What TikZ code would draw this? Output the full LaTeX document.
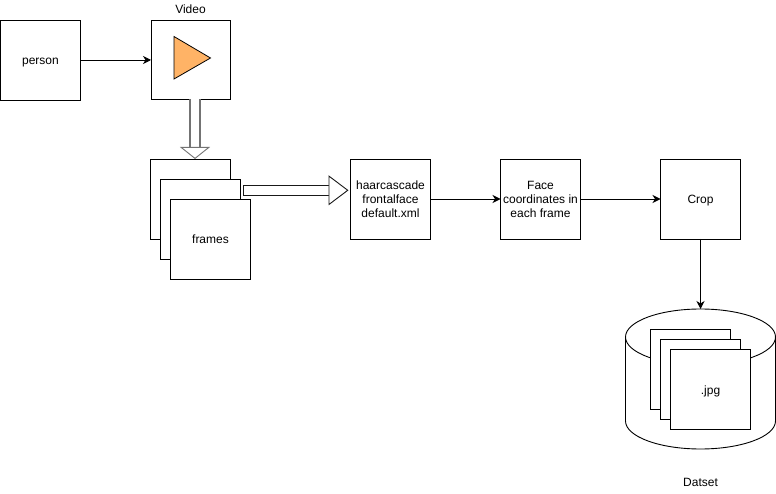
\documentclass[tikz,border=0pt]{standalone}
\usepackage{fontspec}
\setmainfont{Liberation Sans}
\usetikzlibrary{arrows.meta, positioning}
\definecolor{playorange}{HTML}{FFB366}

\begin{document}
\begin{tikzpicture}[
    x=1pt, y=-1pt,
    font=\fontsize{12}{14}\selectfont,
    box/.style={rectangle, draw, line width=0.9pt, outer sep=0pt, fill=white, minimum width=80pt, minimum height=80pt, inner sep=0pt},
    oneline/.style={text height=12pt, text depth=2pt},
    caption/.style={oneline, inner sep=0pt, outer sep=0pt},
    flow/.style={-{Stealth[length=8pt, width=8pt, inset=2.5pt]}, line width=0.9pt},
    hollow/.style={double=white, -{Triangle[open, fill=white, length=#1, width=30pt, line width=0.9pt]}},
    store/.style={draw, line width=0.9pt}
]
\useasboundingbox (0,0) rectangle (776,494);

% Top row
\node[box, oneline] (person) at (40.5,60) {person};
\node[box, right=70.5pt of person, minimum width=79pt, minimum height=79pt] (video) {};
\node[caption, above=5pt of video] (videolabel) {Video};

% Play symbol
\draw[line width=0.8pt, fill=playorange] ([shift={(-16.5,-23.5)}]video.center) -- ([shift={(20,-2)}]video.center) -- ([shift={(-16.5,19)}]video.center) -- cycle;

% Stack of frames
\node[box, below=59.5pt of video] (frames1) {};
\node[box] (frames2) at ([shift={(9.5,20)}]frames1) {};
\node[box, oneline] (frames3) at ([shift={(20,40)}]frames1) {frames};

% Processing chain
\node[box, align=center, right=120pt of frames1] (haar) {haarcascade\\frontalface\\default.xml};
\node[box, align=center, right=70pt of haar] (coords) {Face\\coordinates in\\each frame};
\node[box, oneline, right=80pt of coords] (crop) {Crop};

% Dataset
\node[minimum width=150pt, minimum height=140pt, inner sep=0pt, outer sep=0pt, below=70pt of crop] (dataset) {};
\draw[store] ([shift={(0,28)}]dataset.north west) arc[start angle=180, end angle=0, x radius=75pt, y radius=28pt]
    -- ([shift={(0,-28)}]dataset.south east) arc[start angle=0, end angle=-180, x radius=75pt, y radius=28pt] -- cycle;
\draw[store] ([shift={(0,28)}]dataset.north west) arc[start angle=180, end angle=360, x radius=75pt, y radius=28pt];
\node[box] (jpg1) at ([shift={(-10,-10)}]crop |- dataset) {};
\node[box] (jpg2) at (crop |- dataset) {};
\node[box, oneline] (jpg3) at ([shift={(10,10)}]crop |- dataset) {.jpg};
\node[caption, below=25.7pt of dataset] (datasetlabel) {Datset};

% Free ends of the wide arrows
\coordinate (playout) at ([xshift=4.5pt]video.south);
\coordinate (framesin) at (playout |- frames1.north);
\coordinate (framesout) at ([shift={(8.2,-28.7)}]frames2.east);
\coordinate (haarin) at ([xshift=-2pt]framesout -| haar.west);

% Flows
\draw[flow] (person) -- (video);
\draw[hollow=12pt, draw=black!55, line width=2pt, double distance=7.5pt] (playout) -- (framesin);
\draw[hollow=20pt, draw=black!90, line width=1pt, double distance=8.5pt, line cap=rect] (framesout) -- (haarin);
\draw[flow] (haar) -- (coords);
\draw[flow] (coords) -- (crop);
\draw[flow] (crop) -- (dataset.north);

\end{tikzpicture}
\end{document}
